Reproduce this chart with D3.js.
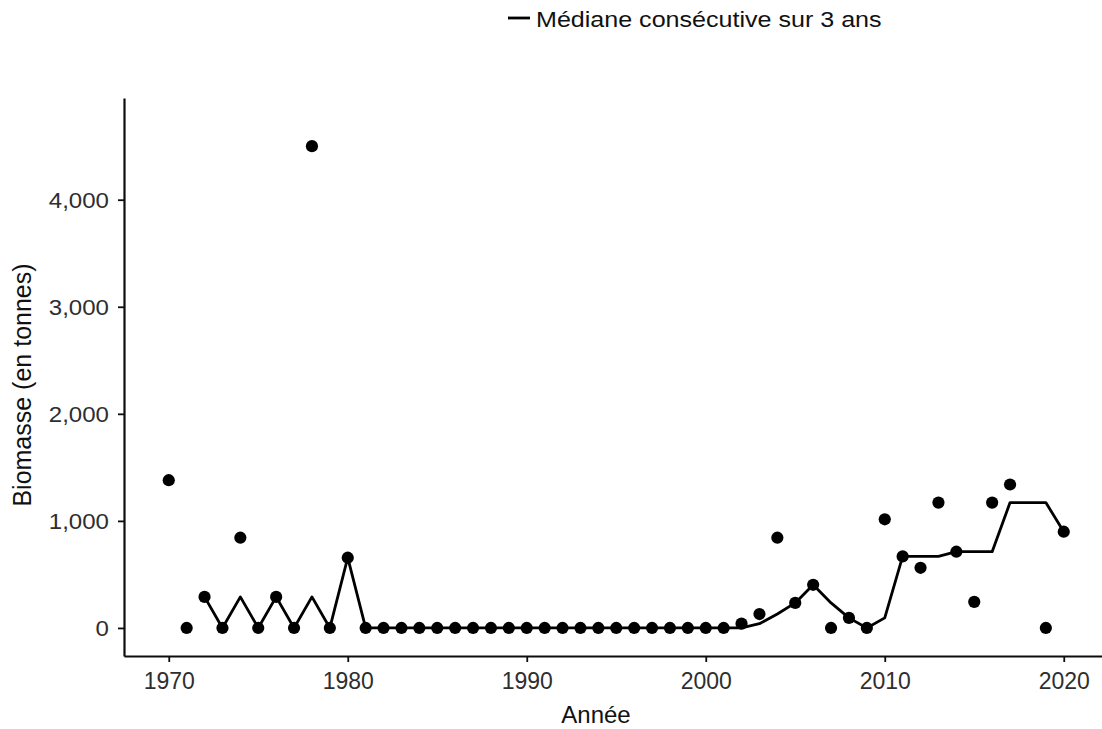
<!DOCTYPE html>
<html>
<head>
<meta charset="utf-8">
<script src="https://cdn.jsdelivr.net/npm/d3@7"></script>
<style>
  html, body { margin: 0; padding: 0; background: #fff; }
  svg { display: block; font-family: "Liberation Sans", Arial, Helvetica, sans-serif; }
</style>
</head>
<body>
<svg id="chart" width="1102" height="729"></svg>
<script>
// ---- data ----
const years = [1970,1971,1972,1973,1974,1975,1976,1977,1978,1979,
               1980,1981,1982,1983,1984,1985,1986,1987,1988,1989,
               1990,1991,1992,1993,1994,1995,1996,1997,1998,1999,
               2000,2001,2002,2003,2004,2005,2006,2007,2008,2009,
               2010,2011,2012,2013,2014,2015,2016,2017,2019,2020];
const biomass = [1380,0,290,0,843,0,290,0,4500,0,
                 656,0,0,0,0,0,0,0,0,0,
                 0,0,0,0,0,0,0,0,0,0,
                 0,0,40,130,843,234,403,0,94,0,
                 1015,668,562,1171,712,244,1171,1340,0,899];
const medianYears = [1972,1973,1974,1975,1976,1977,1978,1979,
                     1980,1981,1982,1983,1984,1985,1986,1987,1988,1989,
                     1990,1991,1992,1993,1994,1995,1996,1997,1998,1999,
                     2000,2001,2002,2003,2004,2005,2006,2007,2008,2009,
                     2010,2011,2012,2013,2014,2015,2016,2017,2019,2020];
const medianValues = [290,0,290,0,290,0,290,0,
                      656,0,0,0,0,0,0,0,0,0,
                      0,0,0,0,0,0,0,0,0,0,
                      0,0,0,40,130,234,403,234,94,0,
                      94,668,668,668,712,712,712,1171,1171,899];
const xTicks = [1970,1980,1990,2000,2010,2020];
const yTicks = [0,1000,2000,3000,4000];
const xDomain = [1967.5, 2022.5];
const yDomain = [-262, 4950];
const legendLabel = "Médiane consécutive sur 3 ans";
const xTitle = "Année";
const yTitle = "Biomasse (en tonnes)";

// ---- layout ----
const svg = d3.select("#chart");
const mLeft = 124, mTop = 98, mBottom = 656;
const x = d3.scaleLinear().domain(xDomain).range([mLeft, mLeft + 55 * 17.9]);
const y = d3.scaleLinear().domain(yDomain).range([mBottom, mTop]);
const axisColor = "#0d0d0d";
const labelColor = "#2e2e2e";

// x axis
const gx = svg.append("g")
  .attr("transform", `translate(0,${mBottom})`)
  .call(d3.axisBottom(x).tickValues(xTicks).tickFormat(d3.format("d")).tickSize(6).tickSizeOuter(0).tickPadding(4));
gx.select(".domain").attr("stroke", axisColor).attr("stroke-width", 2.2);
gx.selectAll(".tick line").attr("stroke", axisColor).attr("stroke-width", 1.8);
gx.selectAll(".tick text")
  .attr("fill", labelColor).attr("font-size", 23).attr("dy", null).attr("y", 33);

// y axis
const gy = svg.append("g")
  .attr("transform", `translate(${mLeft},0)`)
  .call(d3.axisLeft(y).tickValues(yTicks).tickFormat(d3.format(",")).tickSize(6).tickSizeOuter(0).tickPadding(4));
gy.select(".domain").attr("stroke", axisColor).attr("stroke-width", 2.2);
gy.selectAll(".tick line").attr("stroke", axisColor).attr("stroke-width", 1.8);
gy.selectAll(".tick text")
  .attr("fill", labelColor).attr("font-size", 21.5)
  .attr("x", 0).attr("dy", "0.36em")
  .attr("transform", "translate(-15,0) scale(1.12,1)");

// axis titles
svg.append("text")
  .attr("x", 596).attr("y", 723)
  .attr("text-anchor", "middle")
  .attr("font-size", 24).attr("fill", "#111")
  .text(xTitle);
svg.append("text")
  .attr("transform", `translate(31,${(mTop + mBottom) / 2 + 8}) rotate(-90)`)
  .attr("text-anchor", "middle")
  .attr("font-size", 25).attr("fill", "#111")
  .text(yTitle);

// median line
const line = d3.line().x(d => x(d[0])).y(d => y(d[1]));
svg.append("path")
  .datum(d3.zip(medianYears, medianValues))
  .attr("fill", "none").attr("stroke", "#000")
  .attr("stroke-width", 2.8).attr("stroke-linejoin", "round")
  .attr("d", line);

// points
svg.append("g").selectAll("circle")
  .data(d3.zip(years, biomass))
  .join("circle")
  .attr("cx", d => x(d[0])).attr("cy", d => y(d[1]))
  .attr("r", 6.1).attr("fill", "#000");

// legend
const lg = svg.append("g").attr("transform", "translate(508,18)");
lg.append("line").attr("x1", 0).attr("x2", 22).attr("y1", 0).attr("y2", 0)
  .attr("stroke", "#000").attr("stroke-width", 2.8);
lg.append("text")
  .attr("transform", "translate(28,9) scale(1.14,1)")
  .attr("font-size", 22).attr("fill", "#111")
  .text(legendLabel);
</script>
</body>
</html>
